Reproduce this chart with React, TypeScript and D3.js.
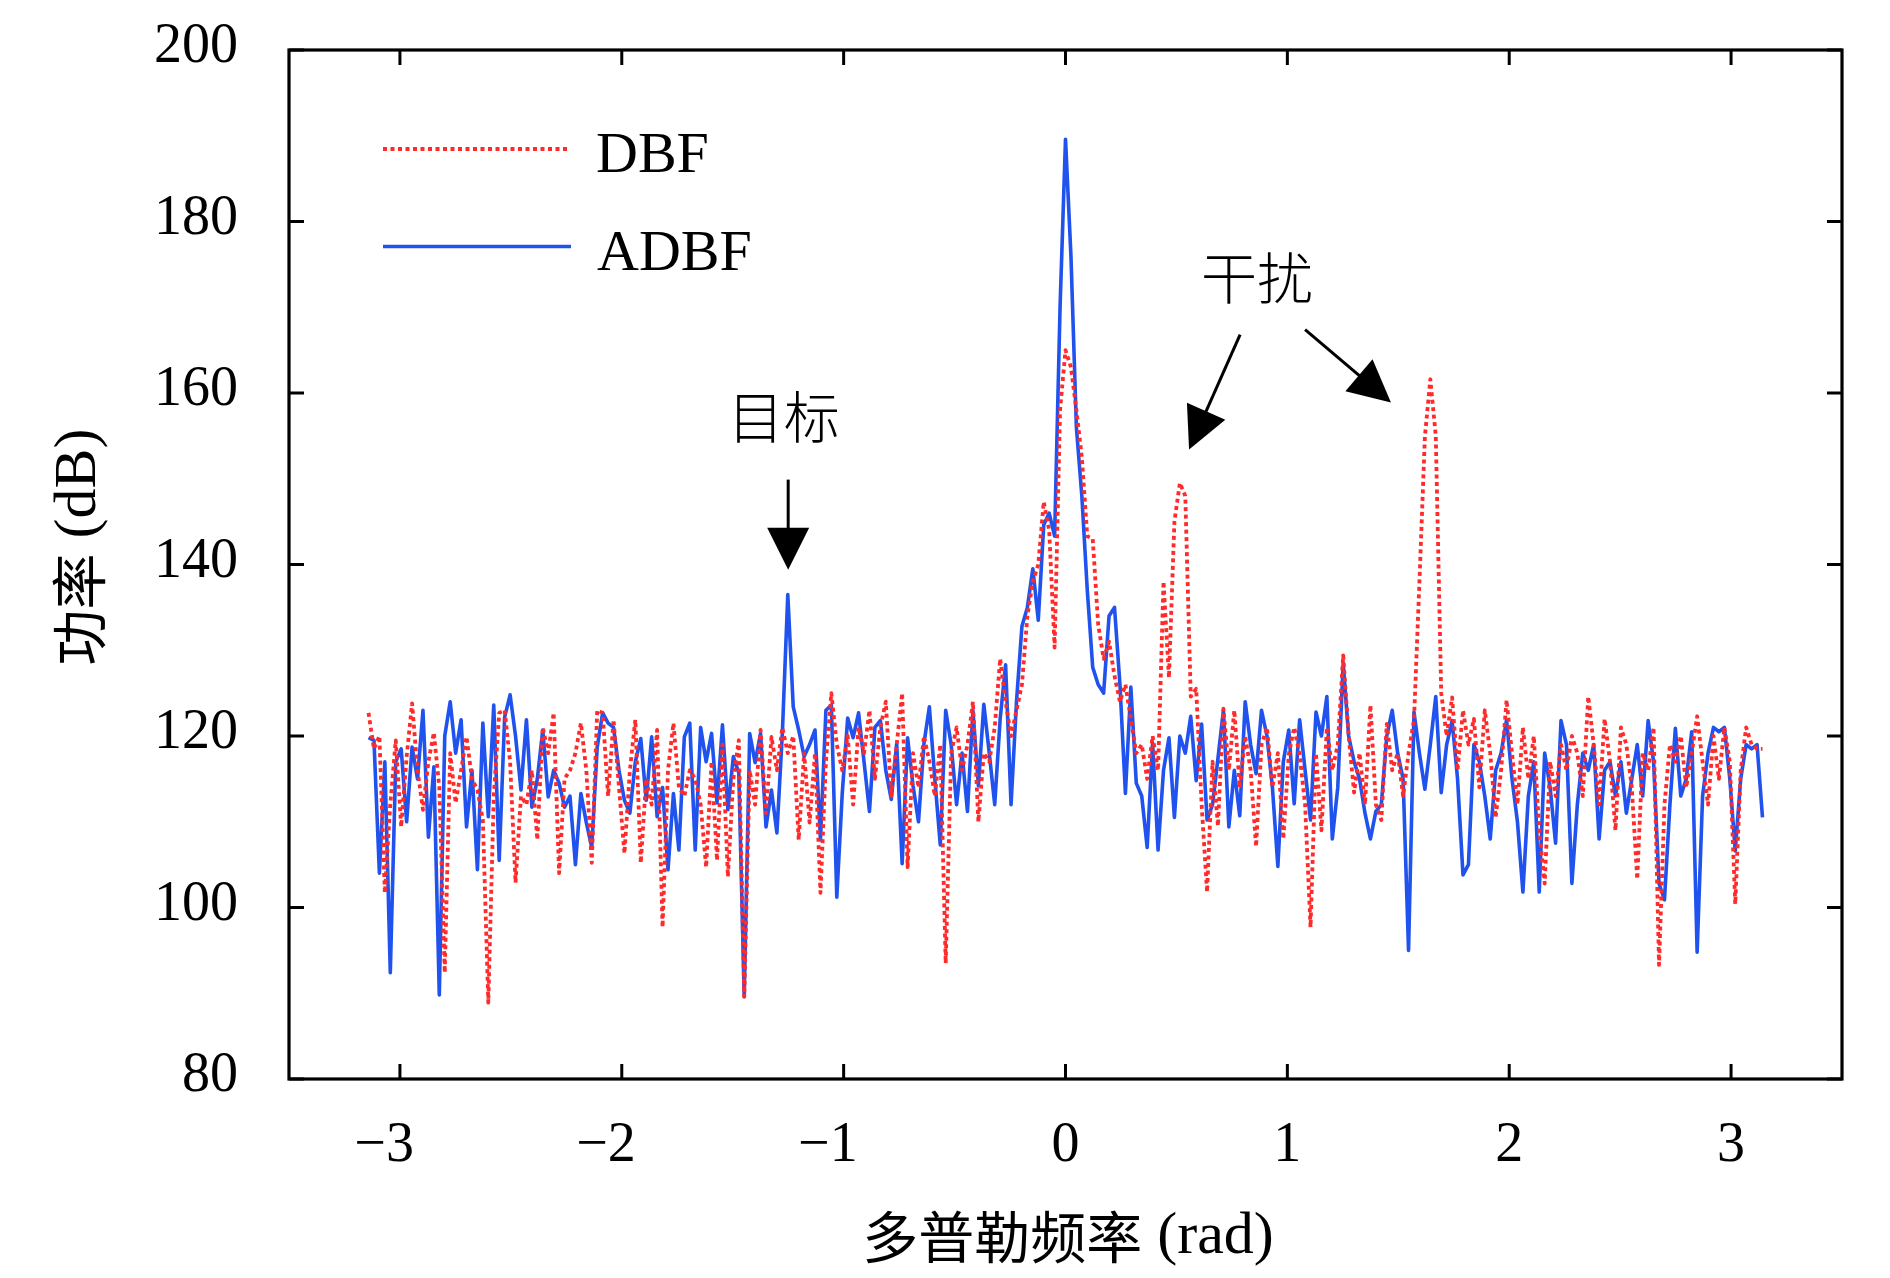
import * as d3 from "d3";

const W = 1890;
const H = 1278;

const xTicks = [-3, -2, -1, 0, 1, 2, 3];
const yTicks = [80, 100, 120, 140, 160, 180, 200];

// power (dB) sampled evenly over [-pi, pi]
const dbf = [
  122.7, 118.5, 120, 101.7, 112, 119.5, 109.4, 117.6, 123.8, 116,
  111.4, 117, 120.4, 114, 92.4, 118, 112.2, 116, 119.9, 115,
  113.7, 110.2, 88.9, 113, 122.7, 123, 117, 102.9, 113, 112,
  116, 107.9, 121, 118, 122.7, 104, 115, 116, 118, 121.5,
  116, 105.2, 123, 122.7, 113, 121.9, 114, 106.3, 116, 121.9,
  105.2, 115, 112, 120.7, 97.7, 116, 121.5, 114, 113, 116,
  115, 112, 104.7, 117, 105.5, 119, 103.6, 115, 119.5, 89.6,
  116, 112, 120.7, 111, 119.9, 116, 121, 118, 120, 107.9,
  118, 109.9, 118, 101.7, 117, 125, 119, 116, 120, 112,
  121, 118, 123, 115, 121, 124, 113, 119, 125, 104.7,
  118, 114, 120, 117, 113, 119, 93.5, 118, 121, 116,
  119, 124, 110, 118, 117, 121, 129, 124, 120, 123,
  126, 134, 138, 140, 147.3, 144, 130.3, 158, 165, 163,
  158, 152.5, 143.3, 143, 133, 129, 131, 127, 124, 126,
  122, 118, 119, 115, 120, 116, 138, 126.8, 145, 149.5,
  148, 124.6, 125.5, 112, 101.8, 117, 109.5, 123.2, 116, 123,
  114, 120, 116, 107.1, 119, 121, 114, 118, 108, 117.8,
  121, 117.8, 112, 97.7, 118, 109, 121, 116, 119, 129.4,
  120, 113.4, 118, 112, 123.6, 112, 110.2, 121.4, 116, 118,
  113, 118, 121.9, 138, 154.9, 161.6, 155, 125, 120, 124.5,
  116, 123, 119, 122, 114, 123, 118, 110.5, 116, 124.2,
  118, 112, 121, 115, 120, 109, 102.8, 117, 113, 119,
  116, 120, 118, 113, 124.6, 119, 112, 122, 117, 109,
  121, 119, 114, 103.3, 118, 116, 121, 93.3, 112, 119,
  117, 120, 114, 118, 122.3, 117, 112, 120, 115, 121,
  117, 100.4, 116, 121, 119, 118.5, 118.5,
];

const adbf = [
  119.8, 119.5, 104, 117, 92.4, 117, 118.5, 110, 118.7, 115,
  123, 108.2, 116.4, 89.8, 120, 124, 118, 121.9, 109.4, 116,
  104.4, 121.5, 110.6, 123.6, 105.5, 122.2, 124.8, 120, 113.7, 121.9,
  111.7, 115, 120.7, 112.9, 116, 114.5, 111.7, 113, 105, 113.3,
  109.9, 107, 118.7, 122.7, 121.5, 121, 116, 112.5, 111, 117,
  119.7, 112.5, 119.9, 110.6, 114, 104.4, 113.3, 106.7, 119.9, 121.5,
  106.7, 121, 117, 120.3, 112.2, 121.3, 111.4, 117.6, 115.7, 89.6,
  120.3, 116.9, 120.3, 109.4, 113.7, 108.7, 120.3, 136.5, 123.4, 120.7,
  117.6, 119, 120.7, 107.9, 123, 123.6, 101.2, 113.3, 122.1, 119.8,
  122.7, 117, 111.2, 121, 121.8, 116, 112.6, 119.1, 105.1, 119.8,
  114.2, 110, 119.1, 123.4, 115, 107.3, 123, 119, 112, 118,
  111.2, 123, 114.2, 123.7, 118, 112, 122, 128.3, 112, 124,
  132.8, 135, 139.5, 133.5, 144.6, 146, 143.3, 170, 189.6, 176,
  156, 148, 137, 128, 126, 125, 134, 135, 126, 113.3,
  125.7, 114.5, 113, 107, 119.2, 106.7, 116, 119.8, 110.5, 120,
  118, 122.3, 114.8, 121.4, 110.2, 112, 117.4, 123, 109.4, 116,
  110.7, 124, 119, 115.6, 123, 120, 114, 104.8, 117, 120.7,
  112.1, 121.9, 116, 110.2, 122.8, 120, 124.6, 108, 114, 128.5,
  120, 117, 115, 111, 108, 111.2, 112, 120, 123, 118,
  115, 95, 122.8, 118, 113.8, 119, 124.6, 113.4, 119, 121.8,
  115, 103.8, 105, 119, 117, 113, 108, 116, 118, 121.9,
  115, 110, 101.8, 113, 117, 101.8, 118, 114, 107.5, 121.8,
  119, 102.8, 112, 118, 116, 119, 108, 116, 117, 113,
  117, 111, 115, 119, 113, 121.8, 117, 102.8, 100.9, 112,
  120.9, 113, 115, 120.5, 94.8, 113, 118, 121, 120.5, 121,
  115, 106.6, 115, 119, 118.5, 119, 110.5,
];

const SERIF = "'Liberation Serif', 'Times New Roman', serif";
const CJK = "'Noto Sans CJK SC', sans-serif";
const RED = "#ff2a2a";
const BLUE = "#2052ee";

const Arrow = ({ x1, y1, x2, y2 }: { x1: number; y1: number; x2: number; y2: number }) => {
  const dx = x2 - x1;
  const dy = y2 - y1;
  const len = Math.hypot(dx, dy);
  const ux = dx / len;
  const uy = dy / len;
  const hl = 42;
  const hw = 21;
  const bx = x2 - ux * hl;
  const by = y2 - uy * hl;
  const pts = [
    [x2, y2],
    [bx - uy * hw, by + ux * hw],
    [bx + uy * hw, by - ux * hw],
  ];
  return (
    <g>
      <line x1={x1} y1={y1} x2={bx + ux * 4} y2={by + uy * 4} stroke="#000" strokeWidth={3} />
      <polygon points={pts.map((p) => p.join(",")).join(" ")} fill="#000" />
    </g>
  );
};

export default function App() {
  const x = d3.scaleLinear().domain([-3.5, 3.5]).range([289, 1842]);
  const y = d3.scaleLinear().domain([80, 200]).range([1079, 50]);

  const freq = (i: number, n: number) => -Math.PI + (2 * Math.PI * i) / (n - 1);
  const lineFor = (arr: number[]) =>
    d3
      .line<number>()
      .x((_, i) => x(freq(i, arr.length)))
      .y((d) => y(d))(arr) || "";

  const [x0, x1] = x.range();
  const [y0, y1] = y.range();

  return (
    <svg
      width={W}
      height={H}
      style={{ position: "absolute", left: 0, top: 0, background: "#fff" }}
    >
      <rect x={0} y={0} width={W} height={H} fill="#fff" />

      {/* data */}
      <path d={lineFor(adbf)} fill="none" stroke={BLUE} strokeWidth={3.6} strokeLinejoin="round" />
      <path
        d={lineFor(dbf)}
        fill="none"
        stroke={RED}
        strokeWidth={3.8}
        strokeDasharray="4 3.5"
        strokeLinejoin="round"
      />

      {/* frame and ticks */}
      <rect x={x0} y={y1} width={x1 - x0} height={y0 - y1} fill="none" stroke="#000" strokeWidth={3.2} />
      {xTicks.map((t) => (
        <g key={"x" + t}>
          <line x1={x(t)} x2={x(t)} y1={y0} y2={y0 - 15} stroke="#000" strokeWidth={3} />
          <line x1={x(t)} x2={x(t)} y1={y1} y2={y1 + 15} stroke="#000" strokeWidth={3} />
          <text
            x={t < 0 ? x(t) + 14 : x(t)}
            y={1161}
            textAnchor={t < 0 ? "end" : "middle"}
            fontFamily={SERIF}
            fontSize={56}
          >
            {t < 0 ? "\u2212" + Math.abs(t) : String(t)}
          </text>
        </g>
      ))}
      {yTicks.map((t) => (
        <g key={"y" + t}>
          <line x1={x0} x2={x0 + 15} y1={y(t)} y2={y(t)} stroke="#000" strokeWidth={3} />
          <line x1={x1} x2={x1 - 15} y1={y(t)} y2={y(t)} stroke="#000" strokeWidth={3} />
          <text x={238} y={y(t) + 12} textAnchor="end" fontFamily={SERIF} fontSize={56}>
            {t}
          </text>
        </g>
      ))}

      {/* axis titles */}
      <text x={1068} y={1233} textAnchor="middle" dominantBaseline="central" fontSize={56}>
        <tspan fontFamily={CJK}>多普勒频率</tspan>
        <tspan fontFamily={SERIF} fontSize={60}>
          {" (rad)"}
        </tspan>
      </text>
      <text
        transform="translate(75,547) rotate(-90)"
        textAnchor="middle"
        dominantBaseline="central"
        fontSize={56}
      >
        <tspan fontFamily={CJK}>功率</tspan>
        <tspan fontFamily={SERIF} fontSize={60}>
          {" (dB)"}
        </tspan>
      </text>

      {/* legend */}
      <line x1={383} x2={568} y1={149} y2={149} stroke={RED} strokeWidth={3.8} strokeDasharray="4 3.5" />
      <text x={596} y={172} fontFamily={SERIF} fontSize={58}>
        DBF
      </text>
      <line x1={383} x2={571} y1={246.5} y2={246.5} stroke={BLUE} strokeWidth={3.6} />
      <text x={597} y={270} fontFamily={SERIF} fontSize={58}>
        ADBF
      </text>

      {/* annotations */}
      <text x={x(-1.27)} y={y(157.6)} textAnchor="middle" dominantBaseline="central" fontFamily={CJK} fontSize={56} fontWeight={300}>
        目标
      </text>
      <Arrow x1={x(-1.25)} y1={y(149.9)} x2={x(-1.25)} y2={y(139.4)} />
      <text x={x(0.863)} y={y(173.8)} textAnchor="middle" dominantBaseline="central" fontFamily={CJK} fontSize={56} fontWeight={300}>
        干扰
      </text>
      <Arrow x1={x(0.787)} y1={y(166.8)} x2={x(0.557)} y2={y(153.4)} />
      <Arrow x1={x(1.08)} y1={y(167.4)} x2={x(1.467)} y2={y(158.9)} />
    </svg>
  );
}
